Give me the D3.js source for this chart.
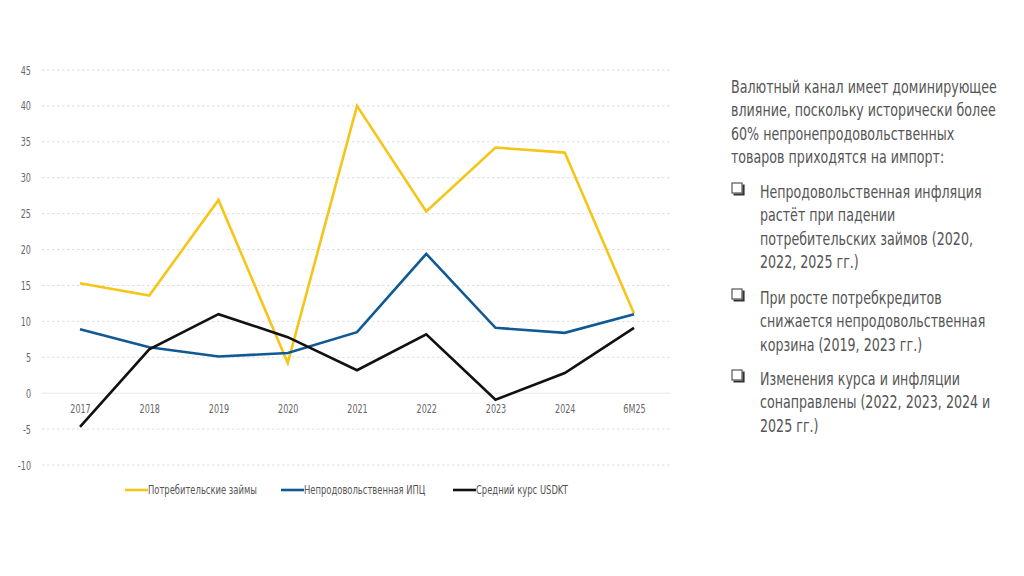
<!DOCTYPE html>
<html>
<head>
<meta charset="utf-8">
<script src="https://cdn.jsdelivr.net/npm/d3@7"></script>
<style>
  html, body { margin: 0; padding: 0; background: #fff; }
  svg { display: block; }
  text { font-family: "DejaVu Sans", sans-serif; }
</style>
</head>
<body>
<svg id="chart" width="1024" height="576"></svg>
<script>
// categories and series
const years = ['2017', '2018', '2019', '2020', '2021', '2022', '2023', '2024', '6M25']
const consumerLoans = [15.3, 13.6, 26.9, 4.2, 40.0, 25.3, 34.2, 33.5, 11.1]
const nonFoodCpi = [8.9, 6.4, 5.1, 5.6, 8.5, 19.4, 9.1, 8.4, 11.0]
const usdKzt = [-4.7, 6.1, 11.0, 7.8, 3.2, 8.2, -0.9, 2.8, 9.1]
const yTicks = [-10, -5, 0, 5, 10, 15, 20, 25, 30, 35, 40, 45]

const seriesNames = ['Потребительские займы', 'Непродовольственная ИПЦ', 'Средний курс USDKT']
const seriesColors = ['#f5c518', '#0f5a94', '#111111']
const seriesData = [consumerLoans, nonFoodCpi, usdKzt]

const noteIntro = [
  'Валютный канал имеет доминирующее',
  'влияние, поскольку исторически более',
  '60% непронепродовольственных',
  'товаров приходятся на импорт:'
]
const noteBullets = [
  ['Непродовольственная инфляция', 'растёт при падении', 'потребительских займов (2020,', '2022, 2025 гг.)'],
  ['При росте потребкредитов', 'снижается непродовольственная', 'корзина (2019, 2023 гг.)'],
  ['Изменения курса и инфляции', 'сонаправлены (2022, 2023, 2024 и', '2025 гг.)']
]

const svg = d3.select('#chart')

// the reference uses a condensed face; measure a sample and squeeze to match
function squeezeFactor(sample, size, targetWidth) {
  const t = svg.append('text').style('font-size', size + 'px').text(sample)
  const w = t.node().getComputedTextLength()
  t.remove()
  return targetWidth / w
}

// ---- scales ----
const gridLeft = 42, gridRight = 670
const x = d3.scalePoint().domain(years).range([80, 634])
const y = d3.scaleLinear().domain([-10, 45]).range([465, 70])

// ---- gridlines ----
svg.append('g')
  .selectAll('line')
  .data(yTicks)
  .join('line')
  .attr('x1', gridLeft).attr('x2', gridRight)
  .attr('y1', d => y(d)).attr('y2', d => y(d))
  .attr('stroke', d => d === 0 ? '#e6e6e6' : '#dedede')
  .attr('stroke-width', 1)
  .attr('stroke-dasharray', d => d === 0 ? null : '2.5,2.5')

const axisK = squeezeFactor('2017', 12.5, 20.5)

// ---- y axis labels ----
const yAxis = svg.append('g')
  .attr('transform', 'translate(31,0)')
  .call(d3.axisLeft(y).tickValues(yTicks).tickFormat(d => String(d)).tickSize(0).tickPadding(0))
yAxis.select('.domain').remove()
yAxis.selectAll('text')
  .attr('fill', '#666')
  .attr('transform', `scale(${axisK},1)`)
  .style('font-size', '12.5px')
  .style('font-family', '"DejaVu Sans", sans-serif')

// ---- x axis labels ----
const xAxis = svg.append('g')
  .attr('transform', `translate(0,${y(0)})`)
  .call(d3.axisBottom(x).tickSize(0).tickPadding(11))
xAxis.select('.domain').remove()
xAxis.selectAll('text')
  .attr('fill', '#666')
  .attr('transform', `scale(${axisK},1)`)
  .style('font-size', '12.5px')
  .style('font-family', '"DejaVu Sans", sans-serif')

// ---- lines ----
const line = d3.line()
  .x((d, i) => x(years[i]))
  .y(d => y(d))

svg.append('g')
  .selectAll('path')
  .data(seriesData)
  .join('path')
  .attr('d', d => line(d))
  .attr('fill', 'none')
  .attr('stroke', (d, i) => seriesColors[i])
  .attr('stroke-width', 2.6)
  .attr('stroke-linejoin', 'miter')

// ---- legend ----
const legendK = squeezeFactor(seriesNames[0], 11.5, 109)
const legendX = [125, 281, 453]
const item = svg.append('g')
  .attr('transform', 'translate(0,490)')
  .selectAll('g')
  .data(seriesNames)
  .join('g')
  .attr('transform', (d, i) => `translate(${legendX[i]},0)`)
item.append('line')
  .attr('x1', 0).attr('x2', 23)
  .attr('stroke', (d, i) => seriesColors[i])
  .attr('stroke-width', 2.6)
item.append('text')
  .attr('transform', `translate(23,0) scale(${legendK},1)`)
  .attr('dy', '0.35em')
  .style('font-size', '11.5px')
  .attr('fill', '#555')
  .text(d => d)

// ---- notes on the right ----
const noteSize = 17.5
const noteK = squeezeFactor(noteIntro[0], noteSize, 266)
const lh = 23.3
const notes = svg.append('g')
  .attr('transform', `translate(731,0) scale(${noteK},1)`)
  .style('font-size', noteSize + 'px')
  .attr('fill', '#555')
noteIntro.forEach((t, i) => {
  notes.append('text').attr('x', 0).attr('y', 93 + i * lh).text(t)
})
const bulletTop = [198, 304, 385]
noteBullets.forEach((lines, b) => {
  // shadowed square bullet
  const bx = 732, by = bulletTop[b] - 15
  svg.append('path')
    .attr('d', `M${bx + 11.5},${by + 1.5}V${by + 11.5}H${bx + 1.5}`)
    .attr('fill', 'none').attr('stroke', '#333').attr('stroke-width', 2.2)
  svg.append('rect')
    .attr('x', bx).attr('y', by).attr('width', 10).attr('height', 10)
    .attr('fill', '#fff').attr('stroke', '#555').attr('stroke-width', 1.2)
  lines.forEach((t, i) => {
    notes.append('text').attr('x', 29 / noteK).attr('y', bulletTop[b] + i * lh).text(t)
  })
})
</script>
</body>
</html>
